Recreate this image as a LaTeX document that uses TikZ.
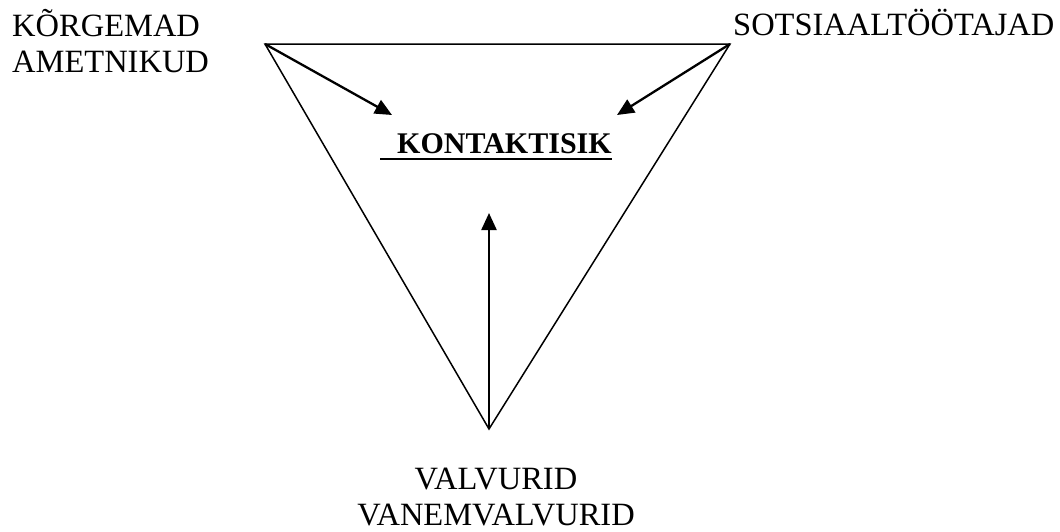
\documentclass[tikz,border=0pt]{standalone}
\usepackage{fontspec}
\setmainfont{Liberation Serif}
\usetikzlibrary{arrows.meta}
\begin{document}
\begin{tikzpicture}[
    x=1pt, y=-1pt,
    every node/.style={inner sep=0pt, font=\fontsize{32.5}{36}\selectfont},
    side/.style={draw, line width=1.5pt, line join=miter},
    pointer/.style={draw, line width=2.3pt, -{Triangle[length=17pt,width=15pt]}}
]
    \useasboundingbox (0,0) rectangle (1060,531);
    % corners of the triangle
    \coordinate (ametnik) at (265,44);
    \coordinate (sotsiaal) at (730,44);
    \coordinate (valvur) at (489,429);
    % arrow ends round the middle
    \coordinate (fromleft) at (392,115);
    \coordinate (fromright) at (617,115);
    \coordinate (frombelow) at (489,213);

    \draw[side] (ametnik) -- (sotsiaal) -- (valvur) -- cycle;
    \draw[pointer] (ametnik) -- (fromleft);
    \draw[pointer] (sotsiaal) -- (fromright);
    \draw[pointer] (valvur) -- (frombelow);

    \node[anchor=base west, align=left] (korgemad) at (12,72) {KÕRGEMAD\\AMETNIKUD};
    \node[anchor=base west] (sotsiaaltootajad) at (733,35) {SOTSIAALTÖÖTAJAD};
    \node[anchor=base, align=center] (valvurid) at (496,525) {VALVURID\\VANEMVALVURID};
    \node[anchor=base west, font=\fontsize{30}{34}\selectfont\bfseries] (kontakt) at (397,153) {KONTAKTISIK};
    \draw[line width=2pt] ([xshift=-17pt,yshift=-5.5pt]kontakt.base west) -- ([yshift=-5.5pt]kontakt.base east);
\end{tikzpicture}
\end{document}
